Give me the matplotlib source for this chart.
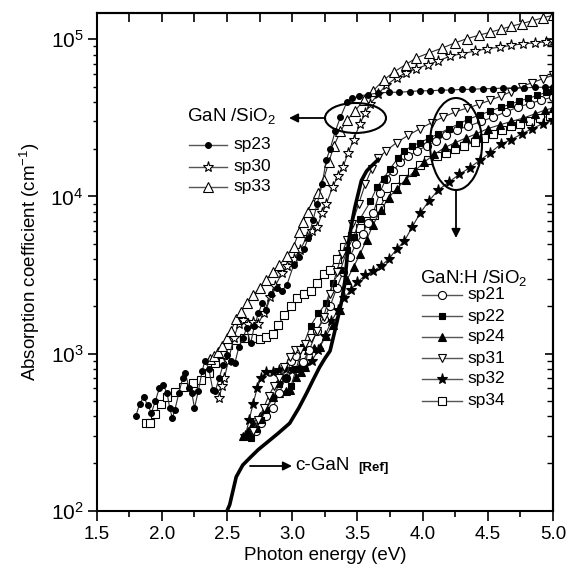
import matplotlib
matplotlib.use('Agg')
import matplotlib.pyplot as plt
from matplotlib.patches import Ellipse, FancyArrowPatch
from matplotlib.lines import Line2D
from matplotlib.ticker import FixedLocator, LogLocator, NullFormatter, FuncFormatter, MultipleLocator

plt.rcParams['font.family'] = ['Liberation Sans', 'DejaVu Sans']
plt.rcParams['mathtext.fontset'] = 'custom'
plt.rcParams['mathtext.rm'] = 'Liberation Sans'
plt.rcParams['mathtext.it'] = 'Liberation Sans:italic'
plt.rcParams['mathtext.bf'] = 'Liberation Sans:bold'

# ---------------- data (photon energy eV, absorption cm^-1) ----------------
cgan = [(2.50,100),(2.52,109),(2.57,164),(2.62,195),(2.68,219),(2.74,245),(2.80,269),(2.89,310),
        (2.98,360),(3.05,450),(3.11,560),(3.16,680),(3.21,820),(3.25,930),(3.29,1040),(3.34,1550),
        (3.38,2180),(3.405,2950),(3.43,5000),(3.46,7000),(3.48,8500),(3.53,12600),(3.57,14500),
        (3.60,15400),(3.67,17500)]

sp23 = [(1.80,400),(1.83,480),(1.86,530),(1.89,470),(1.92,420),(1.95,500),(1.98,600),(2.01,630),
        (2.04,560),(2.06,450),(2.08,390),(2.10,440),(2.13,560),(2.16,700),(2.18,750),(2.21,600),
        (2.23,560),(2.25,450),(2.28,580),(2.31,780),(2.33,900),(2.36,800),(2.39,590),(2.41,580),
        (2.44,700),(2.47,850),(2.50,980),(2.53,900),(2.56,870),(2.59,1100),(2.62,1250),(2.65,1450),
        (2.68,1160),(2.71,1500),(2.74,1800),(2.77,2100),(2.80,1900),(2.84,2400),(2.88,2600),
        (2.92,2500),(2.96,2750),(3.01,3650),(3.05,4100),(3.09,4600),(3.12,5400),(3.16,7100),
        (3.19,8900),(3.23,12000),(3.26,17000),(3.29,20000),(3.33,26000),(3.37,32000),(3.42,40000),
        (3.46,42000),(3.51,43500),(3.58,44500),(3.66,45500),(3.74,46000),(3.82,46000),(3.90,46500),
        (3.98,47000),(4.06,47000),(4.14,47500),(4.22,47500),(4.30,48000),(4.38,48000),(4.46,48500),
        (4.54,48500),(4.62,49000),(4.70,49000),(4.78,49000),(4.86,49500),(4.94,49500),(5.00,50000)]

sp30 = [(2.44,520),(2.46,620),(2.48,700),(2.51,900),(2.55,1250),(2.59,1550),(2.62,1630),(2.66,1550),
        (2.70,1580),(2.74,1550),(2.78,1800),(2.83,2300),(2.87,2700),(2.92,3240),(2.96,3600),
        (3.01,4000),(3.06,4550),(3.11,5500),(3.15,6000),(3.19,6400),(3.23,7800),(3.26,8900),
        (3.31,11500),(3.35,13500),(3.39,15500),(3.43,19000),(3.47,23000),(3.52,29000),(3.56,34000),
        (3.60,39000),(3.66,45000),(3.72,51000),(3.80,57000),(3.87,61000),(3.95,65000),(4.04,69000),
        (4.12,73000),(4.21,78000),(4.30,81000),(4.40,84000),(4.49,87000),(4.59,89000),(4.68,91500),
        (4.77,93500),(4.86,95000),(4.95,96500),(5.00,98000)]

sp33 = [(2.37,920),(2.40,960),(2.43,1020),(2.46,1120),(2.50,1250),(2.53,1400),(2.57,1650),
        (2.61,1850),(2.65,2100),(2.70,2350),(2.75,2600),(2.80,2950),(2.85,3300),(2.90,3650),
        (2.96,4200),(3.01,4800),(3.05,5900),(3.08,6900),(3.12,8000),(3.16,9000),(3.20,10500),
        (3.24,12800),(3.28,16500),(3.32,21000),(3.37,26000),(3.42,30500),(3.48,35000),(3.55,41000),
        (3.62,47000),(3.70,55000),(3.78,62000),(3.87,69000),(3.95,76000),(4.05,82000),(4.15,88000),
        (4.25,95000),(4.34,101000),(4.43,106000),(4.52,111000),(4.60,116000),(4.68,121000),
        (4.76,126000),(4.84,131000),(4.92,137000),(5.00,142000)]

sp21 = [(2.72,320),(2.76,360),(2.80,400),(2.85,450),(2.90,560),(2.95,700),(2.99,900),(3.03,960),
        (3.08,880),(3.13,1050),(3.19,1400),(3.24,1650),(3.29,2000),(3.34,2600),(3.39,3300),
        (3.44,4100),(3.49,5000),(3.54,5800),(3.58,6800),(3.62,7800),(3.67,10500),(3.72,13000),
        (3.77,14500),(3.83,16500),(3.89,18000),(3.96,19500),(4.03,21000),(4.10,22500),(4.18,24500),
        (4.26,26500),(4.35,28000),(4.45,30000),(4.54,32000),(4.64,34500),(4.73,37000),(4.82,39000),
        (4.91,41000),(5.00,43000)]

sp22 = [(2.68,290),(2.72,330),(2.76,380),(2.80,440),(2.85,520),(2.90,640),(2.95,700),(2.99,620),
        (3.03,800),(3.08,1100),(3.14,1500),(3.20,1800),(3.26,2100),(3.31,2800),(3.37,3400),
        (3.42,4550),(3.47,5500),(3.52,7200),(3.60,9300),(3.65,11500),(3.70,13000),(3.75,15000),
        (3.81,17500),(3.86,19500),(3.92,21000),(3.98,22000),(4.05,23500),(4.12,25000),(4.20,27000),
        (4.28,29000),(4.35,31000),(4.44,33000),(4.52,35000),(4.60,37000),(4.67,38500),(4.74,40500),
        (4.81,42000),(4.88,44000),(4.95,46000),(5.00,47000)]

sp24 = [(2.62,300),(2.66,320),(2.70,360),(2.75,400),(2.79,440),(2.85,530),(2.90,560),(2.95,580),
        (2.98,590),(3.03,710),(3.07,760),(3.10,820),(3.12,1050),(3.17,1080),(3.21,1100),(3.26,1300),
        (3.31,1520),(3.37,1900),(3.42,2950),(3.47,3560),(3.52,4300),(3.57,5300),(3.62,6600),
        (3.68,8200),(3.74,9800),(3.80,11200),(3.87,12800),(3.94,14500),(4.01,16500),(4.09,18500),
        (4.17,20500),(4.25,22000),(4.33,23500),(4.41,25000),(4.50,27000),(4.59,28500),(4.68,30000),
        (4.77,31500),(4.86,33500),(4.94,35500),(5.00,36500)]

sp31 = [(2.70,320),(2.74,380),(2.78,450),(2.82,540),(2.86,620),(2.90,700),(2.94,820),(2.98,950),
        (3.02,1050),(3.06,1050),(3.10,1150),(3.14,1250),(3.19,1400),(3.24,1700),(3.29,2400),
        (3.34,3300),(3.38,4300),(3.42,5300),(3.46,6700),(3.51,9000),(3.56,12000),(3.61,15000),
        (3.66,17500),(3.72,19500),(3.80,22000),(3.89,24500),(3.98,27000),(4.07,29500),(4.16,32000),
        (4.25,34500),(4.34,36500),(4.43,38500),(4.52,41000),(4.60,43500),(4.68,46500),(4.76,50000),
        (4.84,53000),(4.92,56000),(5.00,59000)]

sp32 = [(2.64,300),(2.67,380),(2.70,480),(2.73,600),(2.76,700),(2.80,760),(2.85,760),(2.90,790),
        (2.95,800),(3.00,790),(3.05,810),(3.10,840),(3.15,900),(3.20,1050),(3.25,1300),(3.30,1600),
        (3.35,1900),(3.40,2250),(3.45,2550),(3.50,2850),(3.56,3150),(3.62,3350),(3.68,3600),
        (3.74,4000),(3.80,4600),(3.86,5200),(3.92,6400),(3.98,7800),(4.05,9400),(4.12,11000),
        (4.20,12300),(4.28,13800),(4.36,15200),(4.44,17000),(4.52,19000),(4.60,21500),(4.68,23000),
        (4.76,25000),(4.84,27000),(4.92,29000),(5.00,30500)]

sp34 = [(1.88,360),(1.91,360),(1.95,415),(1.99,480),(2.04,530),(2.10,570),(2.16,615),(2.24,645),
        (2.30,675),(2.36,750),(2.41,870),(2.46,1000),(2.51,1130),(2.57,1220),(2.63,1250),(2.69,1250),
        (2.75,1240),(2.80,1270),(2.85,1330),(2.89,1520),(2.94,1750),(2.99,2000),(3.04,2250),
        (3.09,2400),(3.14,2500),(3.19,2800),(3.24,3200),(3.29,3400),(3.34,4000),(3.40,4800),
        (3.46,5600),(3.52,6300),(3.58,7000),(3.63,7600),(3.67,8500),(3.72,10000),(3.79,11500),
        (3.85,13000),(3.92,14300),(3.98,15800),(4.04,17000),(4.11,18000),(4.18,19000),(4.25,20000),
        (4.32,21000),(4.40,22300),(4.47,23500),(4.54,25000),(4.61,26500),(4.68,28000),(4.75,29000),
        (4.82,30000),(4.90,31500),(4.98,32500)]

x_ticks = [1.5, 2.0, 2.5, 3.0, 3.5, 4.0, 4.5, 5.0]
y_ticks = [1e2, 1e3, 1e4, 1e5]

# ---------------- figure ----------------
W, H = 572, 569
fig = plt.figure(figsize=(W/100, H/100), dpi=100)
ax = fig.add_axes([96.7/W, 1-510.7/H, (553-96.7)/W, (510.7-13)/H])

LC = '#2a2a2a'
styles = {
    'sp21': dict(marker='o', mfc='white', ms=5.8),
    'sp22': dict(marker='s', mfc='black', ms=5.0),
    'sp23': dict(marker='o', mfc='black', ms=4.2),
    'sp24': dict(marker='^', mfc='black', ms=6.0),
    'sp30': dict(marker='*', mfc='white', ms=8.0),
    'sp31': dict(marker='v', mfc='white', ms=6.0),
    'sp32': dict(marker='*', mfc='black', ms=8.0),
    'sp33': dict(marker='^', mfc='white', ms=6.5),
    'sp34': dict(marker='s', mfc='white', ms=5.8),
}
series = {'sp34': sp34, 'sp32': sp32, 'sp24': sp24, 'sp21': sp21, 'sp22': sp22, 'sp31': sp31,
          'sp30': sp30, 'sp33': sp33, 'sp23': sp23}
for name, data in series.items():
    xs = [p[0] for p in data]
    ys = [p[1] for p in data]
    st = styles[name]
    ax.plot(xs, ys, color=LC, lw=0.8, marker=st['marker'], ms=st['ms'], mfc=st['mfc'],
            mec='black', mew=0.8)

ax.plot([p[0] for p in cgan], [p[1] for p in cgan], color='black', lw=2.6, solid_capstyle='butt')

ax.set_yscale('log')
ax.set_xlim(1.5, 5.0)
ax.set_ylim(100, 1.47e5)

ax.xaxis.set_major_locator(FixedLocator(x_ticks))
ax.xaxis.set_minor_locator(MultipleLocator(0.25))
ax.xaxis.set_major_formatter(FuncFormatter(lambda v, p: f'{v:.1f}'))
ax.yaxis.set_major_locator(FixedLocator(y_ticks))
ax.yaxis.set_minor_locator(LogLocator(base=10, subs=range(2, 10)))
ax.yaxis.set_minor_formatter(NullFormatter())
ax.yaxis.set_major_formatter(FuncFormatter(lambda v, p: r'$\mathregular{10^{%d}}$' % round(__import__('math').log10(v))))

ax.tick_params(axis='x', which='major', direction='out', length=7, width=1.2, labelsize=13.5, pad=4)
ax.tick_params(axis='x', which='minor', direction='out', length=4.5, width=1.2)
ax.tick_params(axis='y', which='major', direction='out', length=6.5, width=1.2, labelsize=15, pad=3)
ax.tick_params(axis='y', which='minor', direction='out', length=3, width=1.0)
for s in ax.spines.values():
    s.set_linewidth(1.5)

sx = ax.secondary_xaxis('top')
sx.xaxis.set_major_locator(FixedLocator(x_ticks))
sx.xaxis.set_minor_locator(MultipleLocator(0.25))
sx.tick_params(axis='x', which='both', direction='in', length=6.5, width=1.2, labeltop=False)
sx.spines['top'].set_linewidth(1.5)

sy = ax.secondary_yaxis('right')
sy.yaxis.set_major_locator(FixedLocator(y_ticks))
sy.yaxis.set_minor_locator(LogLocator(base=10, subs=range(2, 10)))
sy.yaxis.set_minor_formatter(NullFormatter())
sy.tick_params(axis='y', which='major', direction='in', length=6, width=1.2, labelright=False)
sy.tick_params(axis='y', which='minor', direction='in', length=4, width=1.0, labelright=False)
sy.spines['right'].set_linewidth(1.5)

ax.set_xlabel('Photon energy (eV)', fontsize=13.5, labelpad=3)
ax.set_ylabel(r'Absorption coefficient (cm$^{\mathregular{-1}}$)', fontsize=13.5, labelpad=6)

# ---------------- annotations ----------------
def F(px, py):
    return (px / W, 1 - py / H)

def entry(py, x0, x1, xt, name, label):
    st = styles[name]
    fig.add_artist(Line2D([x0/W, x1/W], [1-py/H]*2, transform=fig.transFigure, color='#555555', lw=1.0))
    fig.add_artist(Line2D([(x0+x1)/2/W], [1-py/H], transform=fig.transFigure, marker=st['marker'],
                          ms=st['ms'], mfc=st['mfc'], mec='black', mew=0.8, lw=0))
    fig.text(xt/W, 1-py/H, label, va='center', ha='left', fontsize=12.5)

fig.text(*F(187, 116), r'GaN /SiO$_{\mathregular{2}}$', va='center', ha='left', fontsize=13.5)
for py, nm in [(145, 'sp23'), (167, 'sp30'), (187, 'sp33')]:
    entry(py, 189, 227, 233, nm, nm)

fig.text(*F(420, 278), r'GaN:H /SiO$_{\mathregular{2}}$', va='center', ha='left', fontsize=13.5)
for py, nm in [(295, 'sp21'), (316, 'sp22'), (337, 'sp24'), (358, 'sp31'), (379, 'sp32'), (401, 'sp34')]:
    entry(py, 422, 462, 467, nm, nm)

e1 = Ellipse(F(355.5, 118), 61/W, 30/H, transform=fig.transFigure, fill=False, lw=1.5, ec='black')
e2 = Ellipse(F(456, 144), 52/W, 92/H, transform=fig.transFigure, fill=False, lw=1.5, ec='black')
fig.add_artist(e1)
fig.add_artist(e2)

def arrow(p0, p1):
    fig.add_artist(FancyArrowPatch(F(*p0), F(*p1), transform=fig.transFigure, arrowstyle='-|>',
                                   mutation_scale=13, lw=1.3, color='black', shrinkA=0, shrinkB=0))

arrow((325, 118), (289, 118))
arrow((456, 190), (456, 238))
arrow((250, 466), (292, 466))

fig.text(*F(295, 466), 'c-GaN', va='center', ha='left', fontsize=13.5)
fig.text(*F(358, 468), '[Ref]', va='center', ha='left', fontsize=9.5, fontweight='bold')

fig.savefig('out.png', dpi=100)
